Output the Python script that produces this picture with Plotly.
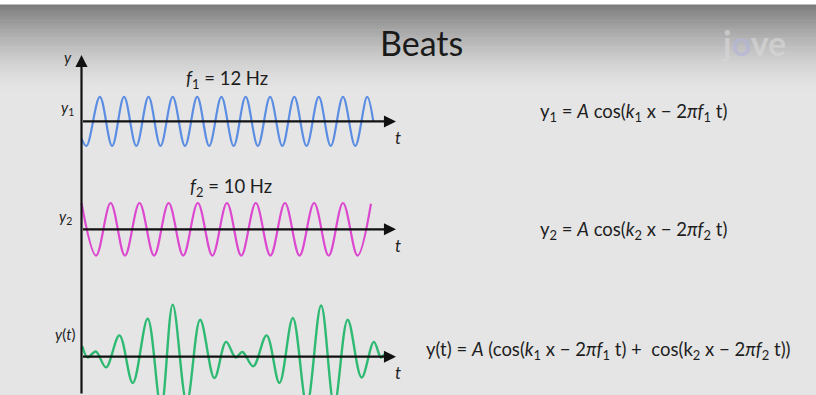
import plotly.graph_objects as go

# ---------------- data ----------------
# time (s) and amplitude (units of A) of the turning points of each wave
blue_t = [0.000, 0.017, 0.063, 0.105, 0.146, 0.188, 0.230, 0.271, 0.313, 0.355,
          0.397, 0.438, 0.480, 0.522, 0.563, 0.605, 0.647, 0.689, 0.730, 0.772,
          0.814, 0.855, 0.897, 0.939, 0.980, 1.001]
blue_y = [-0.70, -1, 1, -1, 1, -1, 1, -1, 1, -1, 1, -1, 1, -1, 1, -1, 1, -1, 1,
          -1, 1, -1, 1, -1, 1, 0.0]

pink_t = [0.000, 0.050, 0.100, 0.149, 0.199, 0.249, 0.299, 0.349, 0.399, 0.449,
          0.499, 0.548, 0.598, 0.648, 0.698, 0.748, 0.798, 0.848, 0.897, 0.947,
          0.993]
pink_y = [1, -1, 1, -1, 1, -1, 1, -1, 1, -1, 1, -1, 1, -1, 1, -1, 1, -1, 1, -1,
          0.97]

green_t = [0.003, 0.021, 0.049, 0.084, 0.130, 0.176, 0.227, 0.273, 0.313, 0.361,
           0.407, 0.456, 0.496, 0.529, 0.552, 0.589, 0.635, 0.679, 0.725, 0.773,
           0.822, 0.867, 0.913, 0.961, 1.003, 1.027, 1.039, 1.047]
green_y = [0.40, -0.03, 0.20, -0.41, 0.82, -1.01, 1.46, -1.95, 2.00, -1.75,
           1.42, -0.82, 0.57, -0.03, 0.18, -0.37, 0.82, -1.01, 1.49, -1.85,
           1.97, -1.85, 1.42, -0.80, 0.57, -0.03, 0.08, 0.00]

axis_end_t = 1.079

# ---------------- figure ----------------
W, H = 816, 395
FONT = "Lato, 'Open Sans', sans-serif"
BLUE, PINK, GREEN = "#5b8de3", "#dc48cf", "#2fba74"


def px(x):
    return x / W


def py(y):
    return 1 - y / H


fig = go.Figure()
fig.add_trace(go.Scatter(x=blue_t, y=blue_y, mode="lines", xaxis="x", yaxis="y",
                         line=dict(color=BLUE, width=2.2, shape="spline"),
                         hoverinfo="skip"))
fig.add_trace(go.Scatter(x=pink_t, y=pink_y, mode="lines", xaxis="x", yaxis="y2",
                         line=dict(color=PINK, width=2.2, shape="spline"),
                         hoverinfo="skip"))
fig.add_trace(go.Scatter(x=green_t, y=green_y, mode="lines", xaxis="x", yaxis="y3",
                         line=dict(color=GREEN, width=2.4, shape="spline"),
                         hoverinfo="skip"))

hidden = dict(visible=False, showgrid=False, zeroline=False, fixedrange=True)
t0_px, px_per_s = 81.5, 291.5
fig.update_layout(
    width=W, height=H, margin=dict(l=0, r=0, t=0, b=0),
    paper_bgcolor="#e5e5e5", plot_bgcolor="rgba(0,0,0,0)",
    showlegend=False,
    xaxis=dict(domain=[0, 1], range=[-t0_px / px_per_s, (W - t0_px) / px_per_s], **hidden),
    yaxis=dict(domain=[0.58, 0.82], range=[-1.814, 2.056], anchor="x", **hidden),
    yaxis2=dict(domain=[0.30, 0.55], range=[-1.795, 1.960], anchor="x", **hidden),
    yaxis3=dict(domain=[0.0, 0.25], range=[-1.474, 2.324], anchor="x", **hidden),
)

# background: white strip + grey gradient at the top
shapes = [dict(type="rect", xref="paper", yref="paper", x0=0, x1=1, y0=py(5), y1=1,
               fillcolor="white", line_width=0, layer="below")]
n = 40
top, bot = 5, 95
for i in range(n):
    y0 = top + (bot - top) * i / n
    y1 = top + (bot - top) * (i + 1) / n
    f = (i + 0.5) / n
    f = 1 - (1 - f) ** 1.6
    c0, c1 = 122, 229
    c = int(round(c0 + (c1 - c0) * f))
    shapes.append(dict(type="rect", xref="paper", yref="paper", x0=0, x1=1,
                       y0=py(y1), y1=py(y0) + 0.001,
                       fillcolor=f"rgb({c},{c},{c})", line_width=0, layer="below"))
fig.update_layout(shapes=shapes)

ann = []
# horizontal axes with arrows
for yr in ["y", "y2", "y3"]:
    ann.append(dict(x=axis_end_t, y=0, xref="x", yref=yr, ax=0, ay=0, axref="x", ayref=yr,
                    showarrow=True, arrowhead=2, arrowsize=1.1, arrowwidth=2.2,
                    arrowcolor="#111111", text="", standoff=0, startstandoff=0))
# vertical axis
ann.append(dict(x=0, y=py(55), xref="x", yref="paper", ax=0, ay=345, axref="pixel", ayref="pixel",
                showarrow=True, arrowhead=2, arrowsize=1.1, arrowwidth=2.2,
                arrowcolor="#111111", text="", standoff=0))


def label(x, y, text, size, color="#1e1e1e", xanchor="center"):
    ann.append(dict(x=px(x), y=py(y), xref="paper", yref="paper", text=text,
                    showarrow=False, xanchor=xanchor, yanchor="middle",
                    font=dict(family=FONT, size=size, color=color)))


label(421, 42, "Beats", 34, "#1a1a1a")
label(753, 42, "<b>j<span style='color:#b4b6d8'>o</span>ve</b>", 34, "rgba(214,214,216,0.7)")
label(68, 57, "<i>y</i>", 15)
label(67, 108, "<i>y</i><sub>1</sub>", 15)
label(65, 217, "<i>y</i><sub>2</sub>", 15)
label(65, 334, "<i>y</i>(<i>t</i>)", 15)
for ty in (137, 245, 372):
    label(398, ty, "<i>t</i>", 17)
label(227, 80, "<i>f</i><sub>1</sub> = 12 Hz", 18.5)
label(231, 187, "<i>f</i><sub>2</sub> = 10 Hz", 18.5)
label(633, 113, "y<sub>1</sub> = <i>A</i> cos(<i>k</i><sub>1</sub> x − 2<i>πf</i><sub>1</sub> t)", 18.5)
label(633, 230, "y<sub>2</sub> = <i>A</i> cos(<i>k</i><sub>2</sub> x − 2<i>πf</i><sub>2</sub> t)", 18.5)
label(608, 350, "y(t) = <i>A</i> (cos(<i>k</i><sub>1</sub> x − 2<i>πf</i><sub>1</sub> t) +  cos(k<sub>2</sub> x − 2<i>πf</i><sub>2</sub> t))", 18.5)

fig.update_layout(annotations=ann)
fig.write_html("out.html", config={"displayModeBar": False},
               post_script="document.body.style.margin='0';document.body.style.overflow='hidden';")
